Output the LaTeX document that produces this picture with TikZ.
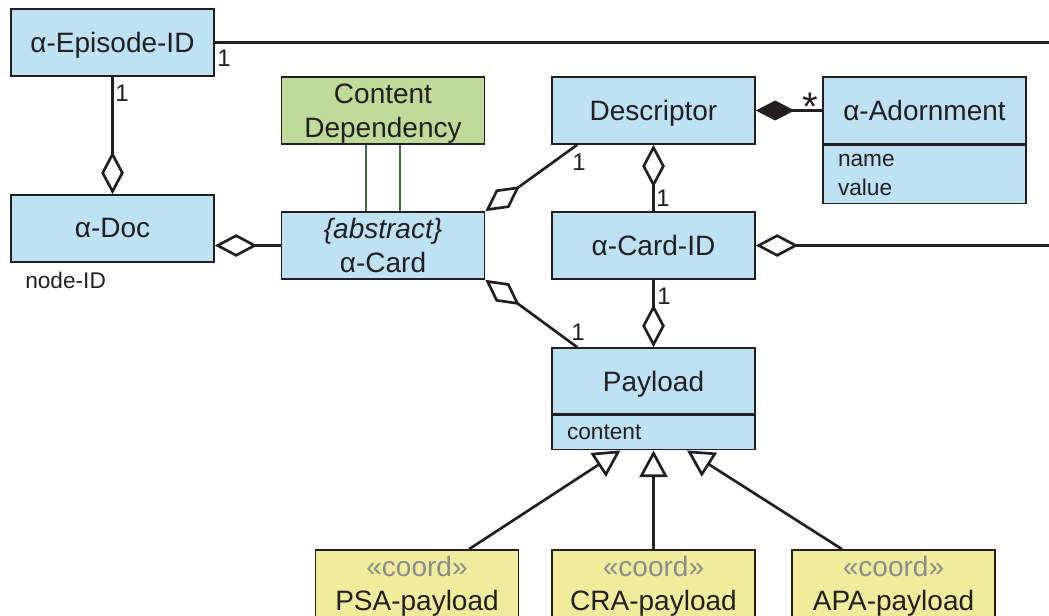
\documentclass[tikz,border=0pt]{standalone}
\usepackage{fontspec}
\setmainfont{Liberation Sans}
\usetikzlibrary{arrows.meta}

\definecolor{clsblue}{RGB}{189,226,244}
\definecolor{depgreen}{RGB}{190,219,151}
\definecolor{coordyellow}{RGB}{240,236,155}
\definecolor{ink}{RGB}{35,31,32}
\definecolor{depline}{RGB}{62,110,58}
\definecolor{stereo}{RGB}{140,140,140}

% keep descenders from pushing a line of text upwards in its box
\newcommand\nodepth[1]{\raisebox{0pt}[\height][0pt]{#1}}

\begin{document}
\begin{tikzpicture}[x=0.75pt,y=-0.75pt,
  cls/.style={draw=ink, line width=1.2pt, fill=clsblue,
    minimum width=152.25pt, minimum height=50.25pt, inner sep=0pt,
    align=center, text=ink, font=\fontsize{21}{25.5}\selectfont},
  attr/.style={draw=ink, line width=1.2pt, fill=clsblue,
    text width=129.75pt, inner xsep=11.25pt, inner ysep=0pt,
    align=left, text=ink, font=\fontsize{17}{21.75}\selectfont},
  lbl/.style={inner sep=0pt, text=ink, font=\fontsize{18}{20}\selectfont},
  assoc/.style={draw=ink, line width=2pt},
  aggr/.style={assoc, arrows={Diamond[open, length=32pt, width=17pt]-}},
  comp/.style={assoc, arrows={Diamond[length=29pt, width=15pt]-}},
  gen/.style={assoc, arrows={-Triangle[open, length=20pt, width=21pt]}},
  dep/.style={draw=depline, line width=1.6pt}]

\useasboundingbox (0,0) rectangle (1049,616);

% classes
\node[cls] (epi) at (112.5,42.5) {\nodepth{α-Episode-ID}};
\node[cls] (doc) at (112.5,228.5) {α-Doc};
\node[cls, fill=depgreen] (cd) at (383,110.5) {Content\\\nodepth{Dependency}};
\node[cls] (card) at (383,245.5) {\textit{\{abstract\}}\\α-Card};
\node[cls] (desc) at (653.5,110.5) {\nodepth{Descriptor}};
\node[cls] (adorn) at (924.5,110.5) {α-Adornment};
\node[attr, minimum height=43.5pt, anchor=north] (adornattr) at (adorn.south) {name\\value};
\node[cls] (cid) at (653.5,245.5) {α-Card-ID};
\node[cls, minimum height=49.5pt] (pay) at (653.5,381) {\nodepth{Payload}};
\node[attr, minimum height=25.5pt, anchor=north] (payattr) at (pay.south) {content};
\node[cls, fill=coordyellow] (psa) at (417,583.5) {\textcolor{stereo}{«coord»}\\\nodepth{PSA-payload}};
\node[cls, fill=coordyellow] (cra) at (653.5,583.5) {\textcolor{stereo}{«coord»}\\\nodepth{CRA-payload}};
\node[cls, fill=coordyellow] (apa) at (893.5,583.5) {\textcolor{stereo}{«coord»}\\\nodepth{APA-payload}};

\node[lbl, font=\fontsize{17}{20}\selectfont, anchor=west] (nodeid) at (25,280) {node-ID};

% loose ends running off to the right
\coordinate (epiEnd) at (1060,42.5);
\coordinate (cidEnd) at (1060,245.5);

% associations and aggregations
\draw[assoc] (epi.east) -- (epiEnd);
\draw[aggr] (doc.north) -- (epi.south);
\draw[aggr] (doc.east |- card.west) -- (card.west);
\draw[dep] ([xshift=-12.75pt]cd.south) -- ([xshift=-12.75pt]card.north);
\draw[dep] ([xshift=12.75pt]cd.south) -- ([xshift=12.75pt]card.north);
\draw[aggr] (card.north east) -- ([xshift=19.5pt]desc.south west);
\draw[aggr] (desc.south) -- (cid.north);
\draw[comp] (desc.east) -- (adorn.west);
\draw[aggr] (cid.east) -- (cidEnd);
\draw[aggr] (pay.north) -- (cid.south);
\draw[aggr] (card.south east) -- ([xshift=19.5pt]pay.north west);

% generalizations
\draw[gen] ([xshift=39pt]psa.north) -- ([xshift=-24.75pt]payattr.south);
\draw[gen] (cra.north) -- (payattr.south);
\draw[gen] ([xshift=-38.6pt]apa.north) -- ([xshift=25.1pt]payattr.south);

% multiplicities
\node[lbl] (m1) at (224,58) {1};
\node[lbl] (m2) at (122,93) {1};
\node[lbl] (m3) at (579,162) {1};
\node[lbl] (m4) at (663,198) {1};
\node[lbl] (m5) at (664,296) {1};
\node[lbl] (m6) at (578,332) {1};
\node[lbl, font=\fontsize{30}{30}\selectfont, anchor=base] (mstar) at (810,121) {*};
\end{tikzpicture}
\end{document}
